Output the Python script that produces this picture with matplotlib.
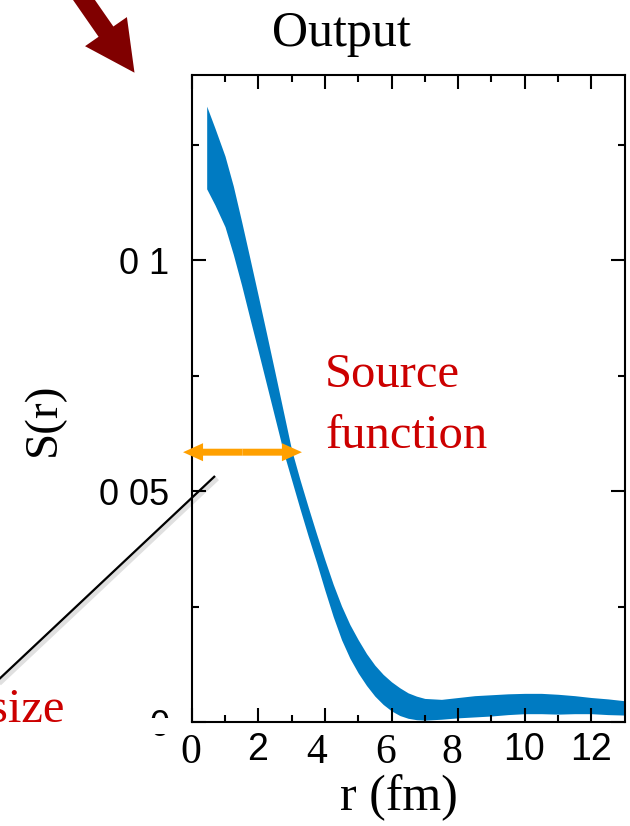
import numpy as np
import matplotlib
matplotlib.use("Agg")
import matplotlib.pyplot as plt
import matplotlib.patheffects as pe
from matplotlib.patches import FancyArrow, FancyArrowPatch, Rectangle, ArrowStyle

# Source function S(r): lower and upper edge of the uncertainty band
r = np.array([0.45, 0.7, 1.0, 1.25, 1.5, 1.75, 2.0, 2.25, 2.5, 2.75,
              3.0, 3.25, 3.5, 3.75, 4.0, 4.25, 4.5, 4.75, 5.0, 5.25,
              5.5, 5.75, 6.0, 6.25, 6.5, 6.75, 7.0, 7.5, 8.0, 8.5,
              9.0, 9.5, 10.0, 10.5, 11.0, 11.5, 12.0, 12.5, 13.0])
s_upper = np.array([0.1333, 0.1285, 0.1225, 0.1160, 0.1083, 0.1003, 0.0922, 0.0840, 0.0757, 0.0673,
                    0.0589, 0.0525, 0.0465, 0.0407, 0.0351, 0.0298, 0.0251, 0.0211, 0.0178, 0.0148,
                    0.0123, 0.0103, 0.0087, 0.0074, 0.0063, 0.0056, 0.0051, 0.0049, 0.0053, 0.0057,
                    0.0059, 0.0061, 0.0062, 0.0062, 0.0060, 0.0057, 0.0053, 0.0050, 0.0046])
s_lower = np.array([0.1154, 0.1119, 0.1072, 0.1012, 0.0945, 0.0873, 0.0802, 0.0730, 0.0658, 0.0586,
                    0.0524, 0.0462, 0.0402, 0.0345, 0.0285, 0.0228, 0.0178, 0.0138, 0.0106, 0.0079,
                    0.0056, 0.0038, 0.0024, 0.0014, 0.0008, 0.0005, 0.0004, 0.0006, 0.0009, 0.0011,
                    0.0013, 0.0016, 0.0018, 0.0018, 0.0017, 0.0018, 0.0018, 0.0016, 0.0015])

# size marker (double arrow) along r at a fixed S
size_r = (-0.26, 3.31)
size_s = 0.0584

xtick_vals = [0, 2, 4, 6, 8, 10, 12]
xtick_text = ['0', '2', '4', '6', '8', '10', '12']
ytick_vals = [0, 0.05, 0.1]
ytick_text = ['0', '0 05', '0 1']

SERIF = 'Liberation Serif'
SANS = 'Liberation Sans'
BLUE = '#007bc2'
RED = '#cc0000'

fig = plt.figure(figsize=(6.3, 8.26), dpi=100)
W, H = 630, 826
ax = fig.add_axes([191.7 / W, 1 - 722 / H, (624.6 - 191.7) / W, (722 - 75.2) / H])

ax.fill_between(r, s_lower, s_upper, color=BLUE, lw=0)
ax.set_xlim(0, 13)
ax.set_ylim(0, 0.14)

for sp in ax.spines.values():
    sp.set_linewidth(1.5)
ax.set_xticks(xtick_vals)
ax.set_xticks(np.arange(1, 13, 2), minor=True)
ax.set_xticklabels([])
ax.set_yticks(ytick_vals)
ax.set_yticks([0.025, 0.075, 0.125], minor=True)
ax.set_yticklabels(ytick_text, fontfamily=SANS, fontsize=26)
ax.tick_params(which='both', direction='in', top=True, right=True, width=1.5)
ax.tick_params(which='major', length=10)
ax.tick_params(which='minor', length=5)
ax.tick_params(axis='y', pad=16)

# x tick labels: mixed typefaces, slightly uneven placement
label_pos = [-0.02, 1.99, 3.75, 5.82, 7.81, 9.98, 11.99]
label_serif = [True, False, True, True, True, False, False]
for pos, txt, serif in zip(label_pos, xtick_text, label_serif):
    if serif:
        ax.annotate(txt, xy=(pos, 0), xycoords=('data', 'axes fraction'),
                    xytext=(0, -29.5), textcoords='offset points',
                    ha='center', va='baseline', fontfamily=SERIF, fontsize=30)
    else:
        ax.annotate(txt, xy=(pos, 0), xycoords=('data', 'axes fraction'),
                    xytext=(0, -27.4), textcoords='offset points',
                    ha='center', va='baseline', fontfamily=SANS, fontsize=27)

ax.set_xlabel('r (fm)', fontfamily=SERIF, fontsize=36, va='baseline')
ax.xaxis.set_label_coords((399 - 191.7) / 432.9, -(810 - 722) / 646.8)
ax.set_ylabel('S(r)', fontfamily=SERIF, fontsize=34, ha='center', va='center')
ax.yaxis.set_label_coords((44 - 191.7) / 432.9, (722 - 419.5) / 646.8)

# orange double arrow for the source size
mid = (size_r[0] + size_r[1]) / 2
style = ArrowStyle.Simple(head_length=1.44, head_width=1.3, tail_width=0.5)
for end in size_r:
    ax.add_patch(FancyArrowPatch((mid, size_s), (end, size_s), arrowstyle=style,
                                 mutation_scale=10, color='#ffa000', lw=0,
                                 shrinkA=0, shrinkB=0, clip_on=False, zorder=5))

fig.text(341 / W, 1 - 46 / H, 'Output', ha='center', va='baseline',
         fontfamily=SERIF, fontsize=36)
fig.text(325 / W, 1 - 387 / H, 'Source', ha='left', va='baseline',
         fontfamily=SERIF, fontsize=35, color=RED)
fig.text(325 / W, 1 - 448 / H, 'function', ha='left', va='baseline',
         fontfamily=SERIF, fontsize=35, color=RED)
fig.text(64 / W, 1 - 722 / H, 'size', ha='right', va='baseline',
         fontfamily=SERIF, fontsize=35, color=RED)

# overlay in pixel units for the pointer arrow, the leader line and a mask
ov = fig.add_axes([0, 0, 1, 1], zorder=3)
ov.set_xlim(0, W)
ov.set_ylim(H, 0)
ov.axis('off')
ov.add_patch(Rectangle((140, 718), 38, 16, color='white', lw=0))
ov.plot([-5, 215], [683, 476], color='black', lw=1.6, solid_capstyle='butt',
        path_effects=[pe.SimpleLineShadow(offset=(1.5, -1.5), shadow_color='black',
                                          alpha=0.12, linewidth=4),
                      pe.Normal()])
ov.add_patch(FancyArrow(72.6, -16.4, 61.9, 89.1, width=18, head_width=51,
                        head_length=50, length_includes_head=True,
                        color='#800000', lw=0))

fig.savefig('out.png', dpi=100)
